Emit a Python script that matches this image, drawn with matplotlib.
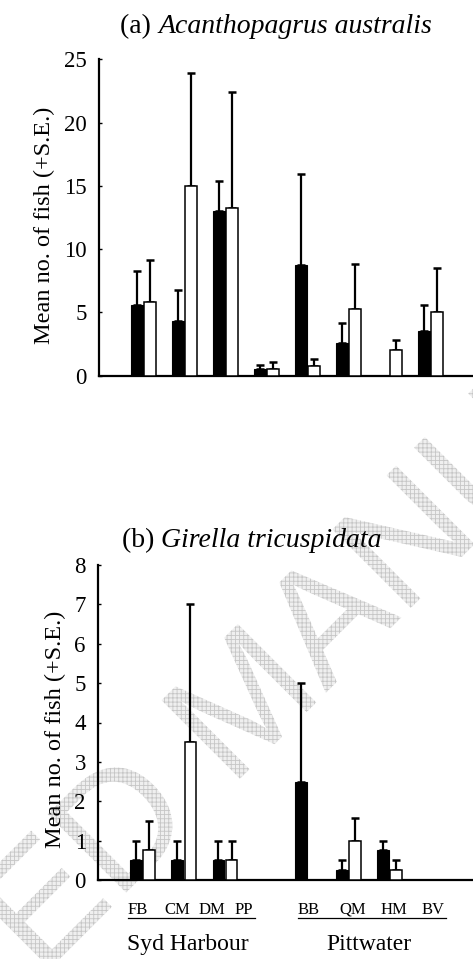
import numpy as np
import matplotlib
matplotlib.use("Agg")
import matplotlib.pyplot as plt
from matplotlib import patheffects
from matplotlib.lines import Line2D

plt.rcParams['font.family'] = ['Liberation Serif', 'DejaVu Serif']
plt.rcParams['hatch.linewidth'] = 0.6

# ---- data ----
sites = ["FB", "CM", "DM", "PP", "BB", "QM", "HM", "BV"]
regions = ["Syd Harbour", "Pittwater"]

# (a) Acanthopagrus australis
a_black = [5.55, 4.3, 13.0, 0.55, 8.75, 2.55, 0.0, 3.55]
a_black_top = [8.25, 6.8, 15.4, 0.85, 15.9, 4.2, 0.0, 5.55]
a_white = [5.8, 15.0, 13.25, 0.55, 0.75, 5.25, 2.0, 5.0]
a_white_top = [9.15, 23.9, 22.45, 1.1, 1.3, 8.8, 2.8, 8.5]

# (b) Girella tricuspidata
b_black = [0.5, 0.5, 0.5, 0.0, 2.5, 0.25, 0.75, 0.0]
b_black_top = [1.0, 1.0, 1.0, 0.0, 5.0, 0.5, 1.0, 0.0]
b_white = [0.75, 3.5, 0.5, 0.0, 0.0, 1.0, 0.25, 0.0]
b_white_top = [1.5, 7.0, 1.0, 0.0, 0.0, 1.58, 0.5, 0.0]

a_ticks = [0, 5, 10, 15, 20, 25]
b_ticks = [0, 1, 2, 3, 4, 5, 6, 7, 8]
ylabel = "Mean no. of fish (+S.E.)"

W, H = 473, 959
fig = plt.figure(figsize=(W / 100, H / 100), dpi=100)

# watermark (behind everything)
fig.text(252 / W, 1 - 708 / H, "ACCEPTED MANUSCRIPT", family="Liberation Sans",
         fontsize=116, rotation=45, ha="center", va="center",
         rotation_mode="anchor", color="none", zorder=-5,
         path_effects=[patheffects.PathPatchEffect(edgecolor="#c6c6c6",
                                                   facecolor="#efefef",
                                                   hatch="++++", linewidth=0)])

x = np.arange(len(sites))
off = 0.16
bw = 0.285


def draw(ax, black, black_top, white, white_top, ticks, ly):
    black = np.array(black); white = np.array(white)
    bt = np.array(black_top); wt = np.array(white_top)
    ax.bar(x - off, black, bw, color="black", edgecolor="black", linewidth=0.8, zorder=3)
    ax.bar(x + off, white, bw, color="white", edgecolor="black", linewidth=1.1, zorder=3)
    for xs, v, t in ((x - off, black, bt), (x + off, white, wt)):
        m = t > v
        ax.errorbar(xs[m], v[m], yerr=[np.zeros(m.sum()), (t - v)[m]], fmt="none",
                    ecolor="black", elinewidth=1.6, capsize=2.6, capthick=1.8, zorder=2)
    ax.set_xlim(-1.08, 8.03)
    ax.set_ylim(0, ticks[-1])
    ax.set_yticks(ticks)
    ax.set_xticks([])
    for s in ("top", "right"):
        ax.spines[s].set_visible(False)
    for s in ("left", "bottom"):
        ax.spines[s].set_linewidth(1.6)
    ax.tick_params(axis="y", direction="in", length=2.5, width=1, labelsize=16.5, pad=9)
    ax.set_ylabel(ylabel, fontsize=17.5, labelpad=6)
    ax.yaxis.label.set_y(ly)
    ax.patch.set_alpha(0)


ax1 = fig.add_axes([99 / W, 1 - 375.7 / H, 1 - 99 / W, (375.7 - 59.3) / H])
draw(ax1, a_black, a_black_top, a_white, a_white_top, a_ticks, 0.474)
ax2 = fig.add_axes([98.3 / W, 1 - 880 / H, 1 - 98.3 / W, (880 - 565) / H])
draw(ax2, b_black, b_black_top, b_white, b_white_top, b_ticks, 0.479)


def title(xc, yb, pre, ital, size=20):
    t1 = fig.text(xc / W, 1 - yb / H, pre, fontsize=size, ha="left", va="baseline")
    t2 = fig.text(0, 0, ital, fontsize=size, style="italic", va="baseline")
    fig.canvas.draw()
    r = fig.canvas.get_renderer()
    w1 = t1.get_window_extent(r).width
    w2 = t2.get_window_extent(r).width
    left = xc - (w1 + w2) / 2
    t1.set_position((left / W, 1 - yb / H))
    t2.set_position(((left + w1) / W, 1 - yb / H))


title(276, 33, "(a) ", "Acanthopagrus australis")
title(252, 547, "(b) ", "Girella tricuspidata")

# site labels under panel (b)
label_px = [138, 177, 212, 244, 309, 353, 394, 433]
for name, px in zip(sites, label_px):
    fig.text(px / W, 1 - 914 / H, name, fontsize=12, ha="center", va="baseline")
for x0, x1 in ((128, 255), (298, 446)):
    fig.add_artist(Line2D([x0 / W, x1 / W], [1 - 917.5 / H] * 2, color="black", lw=0.9))
for name, px in zip(regions, (188, 369)):
    fig.text(px / W, 1 - 950 / H, name, fontsize=17, ha="center", va="baseline")

fig.savefig("out.png", dpi=100)
